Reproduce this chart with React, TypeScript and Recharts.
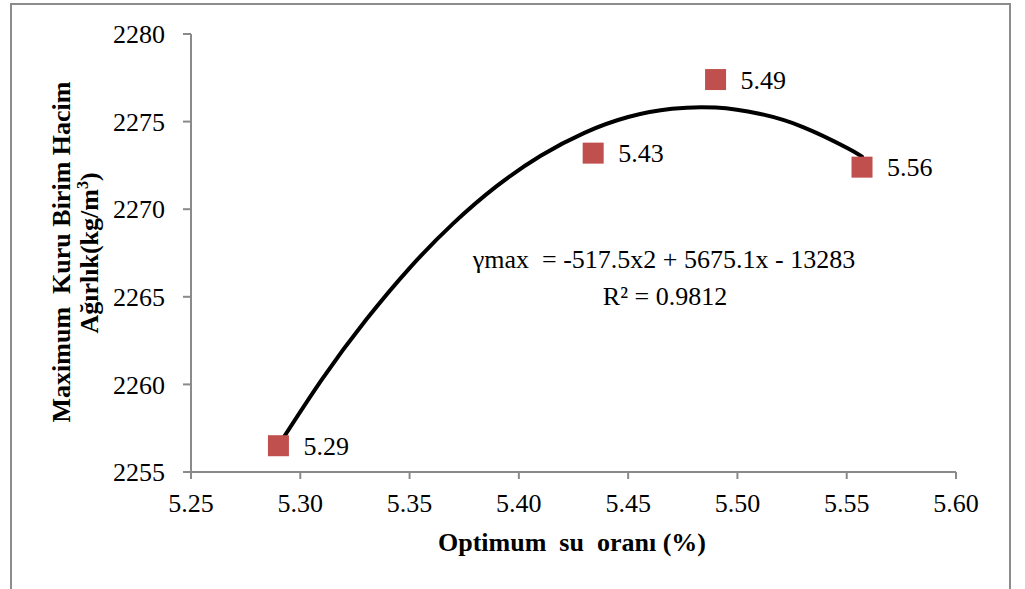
import React from "react";
import { ComposedChart, XAxis, YAxis, Scatter, Line } from "recharts";

// Measured points (optimum water content %, max dry unit weight)
const pointX = [5.29, 5.434, 5.49, 5.557];
const pointY = [2256.5, 2273.2, 2277.4, 2272.4];
const pointLabels = ["5.29", "5.43", "5.49", "5.56"];

// Trendline
const curveX = [5.29, 5.31, 5.33, 5.35, 5.37, 5.39, 5.41, 5.43, 5.45, 5.47, 5.49, 5.51, 5.53, 5.55, 5.557];
const curveY = [2256.51, 2260.3, 2263.67, 2266.64, 2269.19, 2271.33, 2273.05, 2274.36, 2275.26, 2275.73, 2275.8, 2275.45, 2274.69, 2273.51, 2273.0];

const xTicks = [5.25, 5.3, 5.35, 5.4, 5.45, 5.5, 5.55, 5.6];
const yTicks = [2255, 2260, 2265, 2270, 2275, 2280];

const points = pointX.map((x, i) => ({ x, y: pointY[i], label: pointLabels[i] }));
const curve = curveX.map((x, i) => ({ x, y: curveY[i] }));

const FONT = '"Liberation Serif", "Times New Roman", serif';
const AXIS = "#8a8a8a";

const MarkerShape = (props: any) => {
  const { cx, cy, payload } = props;
  if (cx == null || cy == null) return null;
  const s = 21;
  return (
    <g>
      <rect x={cx - s / 2} y={cy - s / 2} width={s} height={s} fill="#C0504D" />
      <text x={cx + 25} y={cy + 9} fontFamily={FONT} fontSize={26} fill="#000">
        {payload.label}
      </text>
    </g>
  );
};

export default function App() {
  return (
    <div
      style={{
        position: "fixed",
        left: 0,
        top: 0,
        width: 1025,
        height: 589,
        overflow: "hidden",
        background: "#fff",
      }}
    >
      <div
        style={{
          position: "absolute",
          left: 10,
          top: 3,
          width: 997,
          height: 640,
          border: "2px solid #8c8c8c",
        }}
      />
      <div style={{ position: "absolute", left: 0, top: 0 }}>
        <ComposedChart
          width={1025}
          height={589}
          margin={{ top: 34, right: 69, bottom: 77, left: 91 }}
        >
          <XAxis
            type="number"
            dataKey="x"
            domain={[5.25, 5.6]}
            ticks={xTicks}
            interval={0}
            allowDataOverflow
            tickFormatter={(v: number) => v.toFixed(2)}
            height={40}
            tickSize={7}
            tickMargin={15}
            axisLine={{ stroke: AXIS, strokeWidth: 2 }}
            tickLine={{ stroke: AXIS, strokeWidth: 2 }}
            tick={{ fontFamily: FONT, fontSize: 26, fill: "#000" }}
          />
          <YAxis
            type="number"
            dataKey="y"
            domain={[2255, 2280]}
            ticks={yTicks}
            interval={0}
            allowDataOverflow
            width={100}
            tickSize={8}
            tickMargin={18}
            axisLine={{ stroke: AXIS, strokeWidth: 2 }}
            tickLine={{ stroke: AXIS, strokeWidth: 2 }}
            tick={{ fontFamily: FONT, fontSize: 26, fill: "#000" }}
          />
          <Line
            data={curve}
            dataKey="y"
            type="natural"
            stroke="#000"
            strokeWidth={4}
            strokeLinecap="round"
            dot={false}
            activeDot={false}
            isAnimationActive={false}
          />
          <Scatter
            data={points}
            dataKey="y"
            shape={<MarkerShape />}
            isAnimationActive={false}
          />
        </ComposedChart>
      </div>
      <svg
        width={1025}
        height={589}
        style={{ position: "absolute", left: 0, top: 0, pointerEvents: "none" }}
      >
        <text
          x={70}
          y={252}
          transform="rotate(-90, 70, 252)"
          textAnchor="middle"
          fontFamily={FONT}
          fontSize={26}
          fontWeight="bold"
          style={{ whiteSpace: "pre" }}
        >
          {"Maximum  Kuru Birim Hacim"}
        </text>
        <text
          x={98}
          y={253}
          transform="rotate(-90, 98, 253)"
          textAnchor="middle"
          fontFamily={FONT}
          fontSize={26}
          fontWeight="bold"
        >
          Ağırlık(kg/m
          <tspan dy={-10} fontSize={16}>3</tspan>
          <tspan dy={10}>)</tspan>
        </text>
        <text
          x={572}
          y={551}
          textAnchor="middle"
          fontFamily={FONT}
          fontSize={26}
          fontWeight="bold"
          style={{ whiteSpace: "pre" }}
        >
          {"Optimum  su  oranı (%)"}
        </text>
        <text
          x={664}
          y={268}
          textAnchor="middle"
          fontFamily={FONT}
          fontSize={26}
          style={{ whiteSpace: "pre" }}
        >
          {"γmax  = -517.5x2 + 5675.1x - 13283"}
        </text>
        <text x={665} y={305} textAnchor="middle" fontFamily={FONT} fontSize={26}>
          R² = 0.9812
        </text>
      </svg>
    </div>
  );
}
